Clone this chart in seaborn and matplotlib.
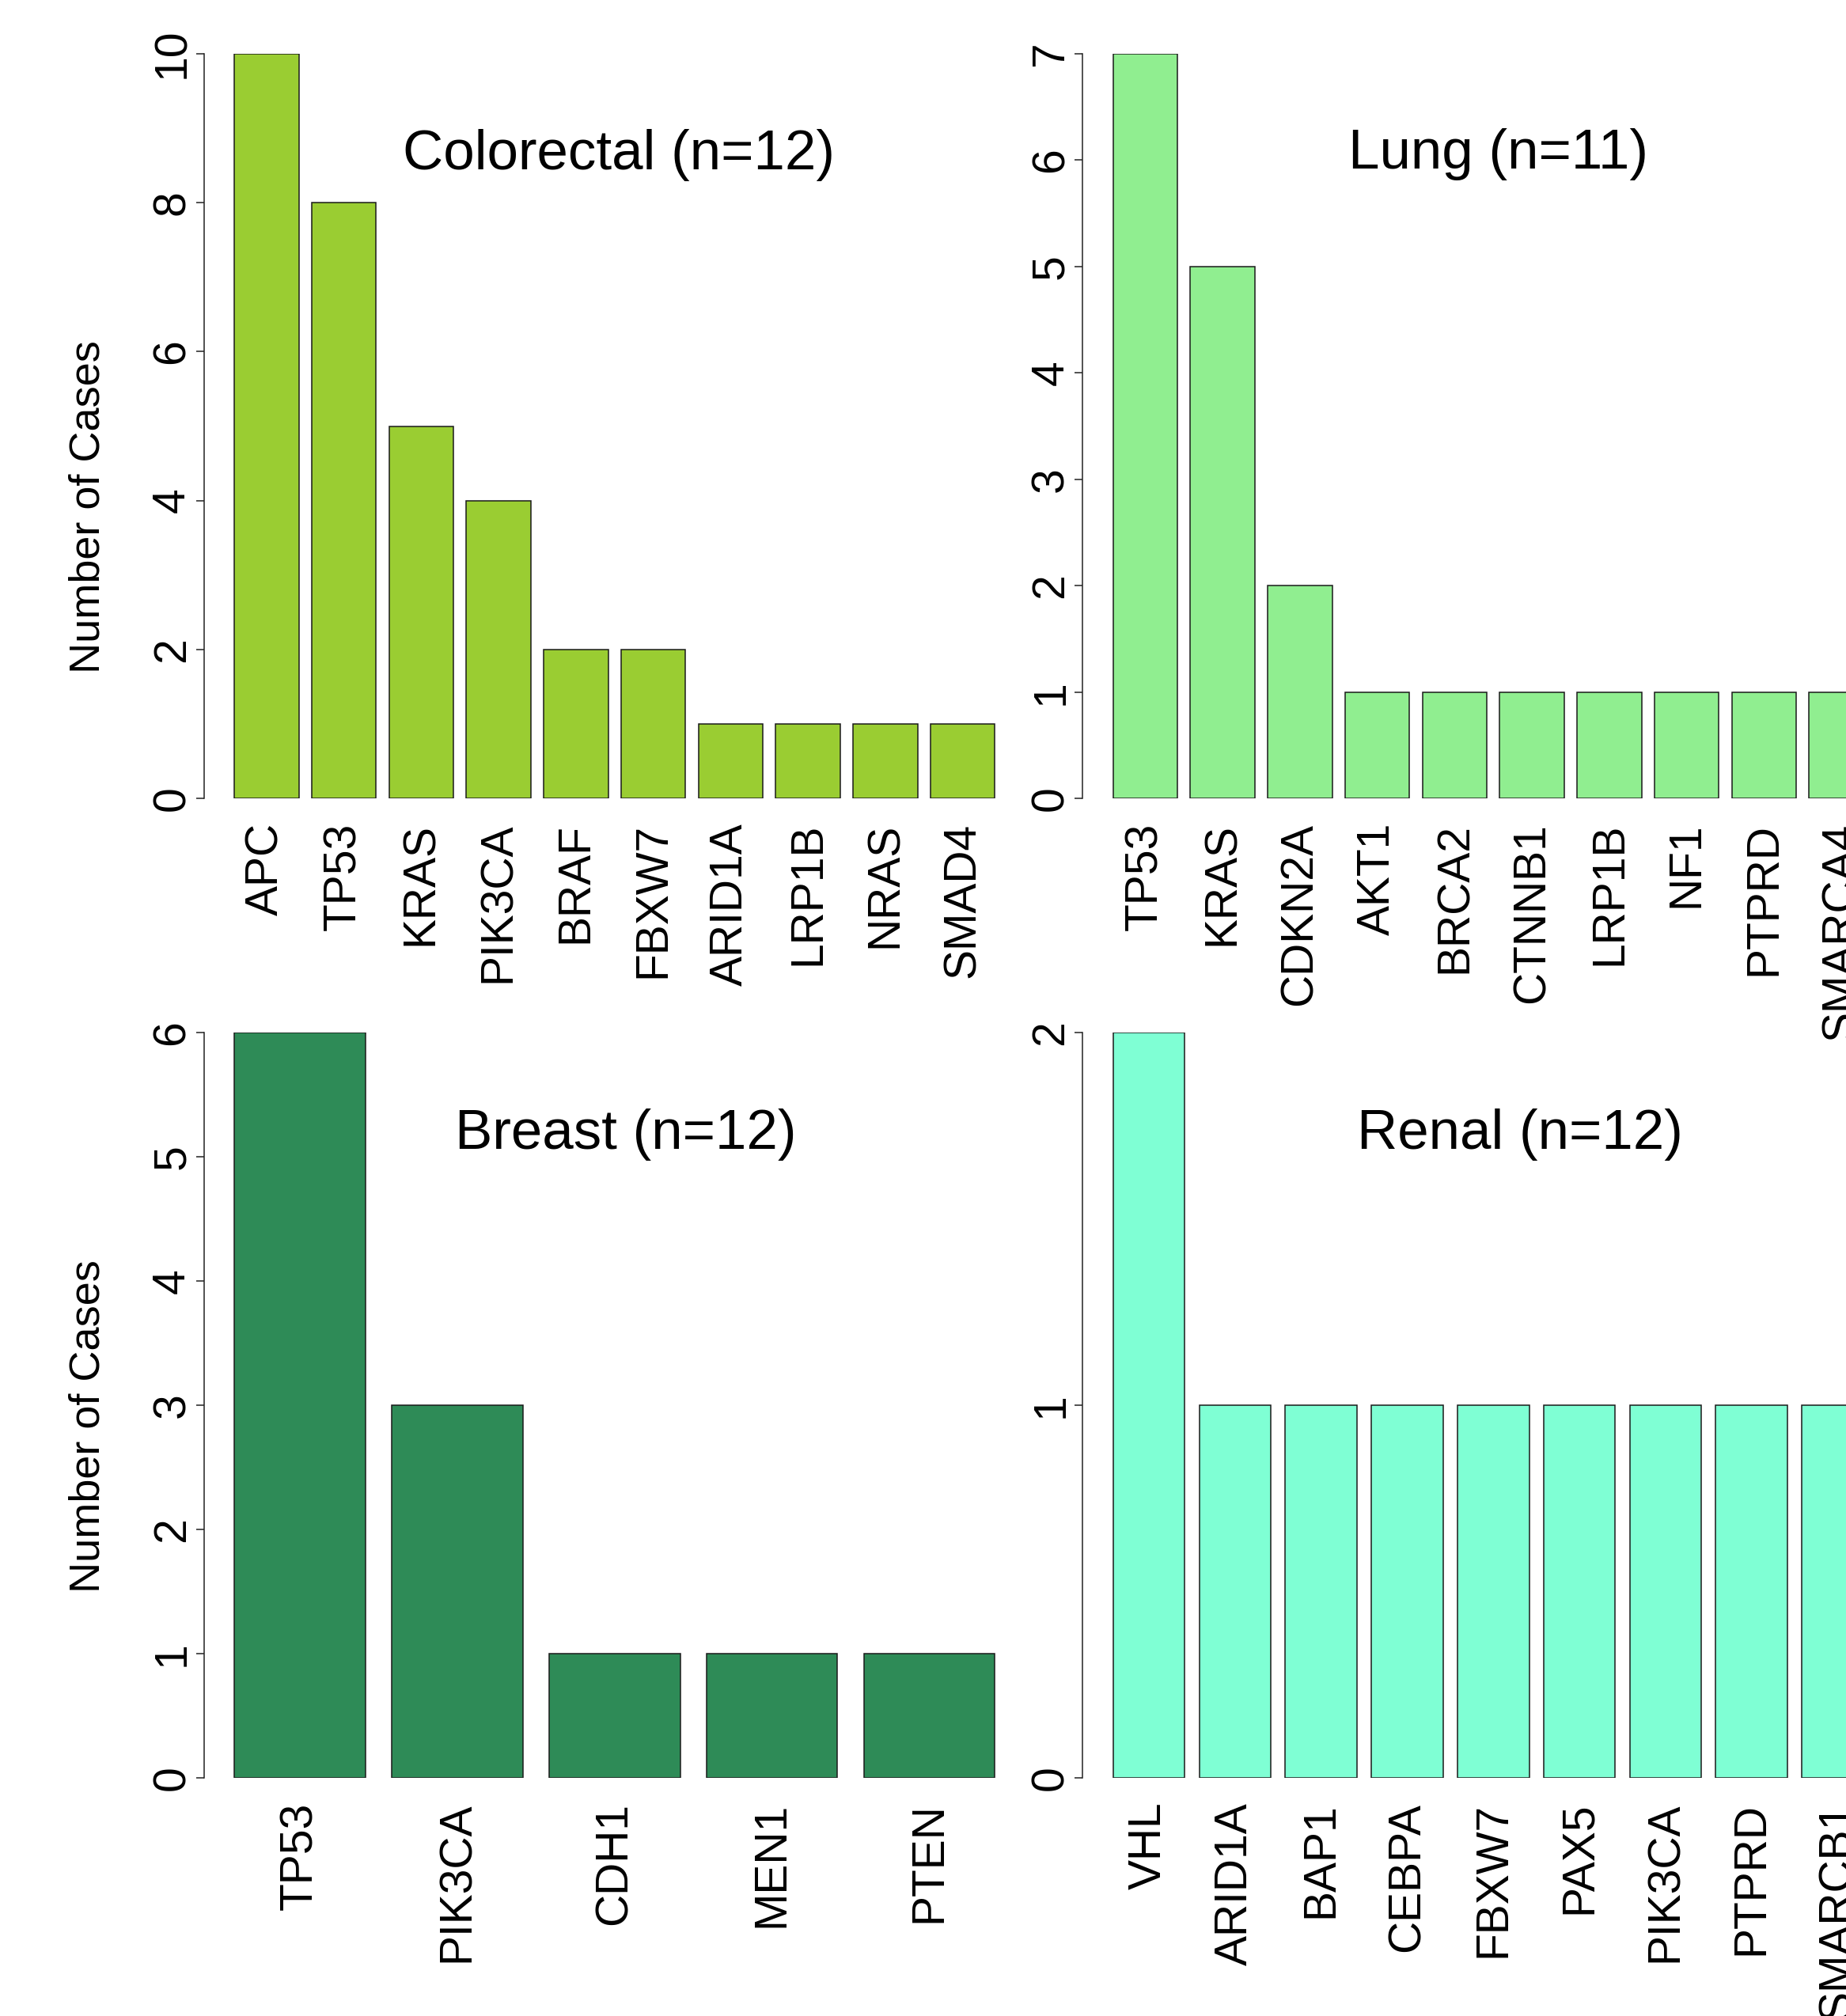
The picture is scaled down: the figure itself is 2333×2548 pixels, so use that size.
import matplotlib
matplotlib.use("Agg")
import matplotlib.pyplot as plt
import seaborn as sns
import pandas as pd

sns.set_style("white")
plt.rcParams['font.family'] = ['Liberation Sans', 'DejaVu Sans']
plt.rcParams['text.color'] = 'black'
plt.rcParams['xtick.color'] = 'black'
plt.rcParams['ytick.color'] = 'black'
plt.rcParams['axes.labelcolor'] = 'black'

# data
colorectal_genes = ['APC', 'TP53', 'KRAS', 'PIK3CA', 'BRAF', 'FBXW7',
                    'ARID1A', 'LRP1B', 'NRAS', 'SMAD4']
colorectal_counts = [10, 8, 5, 4, 2, 2, 1, 1, 1, 1]

lung_genes = ['TP53', 'KRAS', 'CDKN2A', 'AKT1', 'BRCA2', 'CTNNB1',
              'LRP1B', 'NF1', 'PTPRD', 'SMARCA4']
lung_counts = [7, 5, 2, 1, 1, 1, 1, 1, 1, 1]

breast_genes = ['TP53', 'PIK3CA', 'CDH1', 'MEN1', 'PTEN']
breast_counts = [6, 3, 1, 1, 1]

renal_genes = ['VHL', 'ARID1A', 'BAP1', 'CEBPA', 'FBXW7', 'PAX5',
               'PIK3CA', 'PTPRD', 'SMARCB1']
renal_counts = [2, 1, 1, 1, 1, 1, 1, 1, 1]

W, H = 2333, 2548
fig = plt.figure(figsize=(W / 100, H / 100), dpi=100)

bar_w = 1 / 1.2   # R barplot: width 1, space 0.2


def fx(px):
    return px / W


def fy(py):
    return 1 - py / H


def panel(left, top, bottom, genes, counts, color, ystep, title, title_xy):
    width = 1038
    ax = fig.add_axes([fx(left), fy(bottom), fx(width), (bottom - top) / H])
    df = pd.DataFrame({'gene': genes, 'n': counts})
    sns.barplot(data=df, x='gene', y='n', color=color, saturation=1,
                width=bar_w, edgecolor='#1a1a1a', linewidth=1.1, ax=ax)
    n = len(genes)
    lo, hi = -bar_w / 2, n - 1 + bar_w / 2
    ext = 0.04 * (hi - lo)
    ax.set_xlim(lo - ext, hi + ext)
    ymax = max(counts)
    ax.set_ylim(0, ymax)
    ax.set_yticks(range(0, ymax + 1, ystep))
    ax.set_xlabel('')
    ax.set_ylabel('')
    for s in ['top', 'right', 'bottom']:
        ax.spines[s].set_visible(False)
    ax.spines['left'].set_linewidth(1.1)
    ax.spines['left'].set_color('#222222')
    ax.tick_params(axis='y', left=True, length=7.2, width=1.1, color='#222222',
                   pad=2, labelsize=41, labelrotation=90, labelcolor='black')
    for lab in ax.get_yticklabels():
        lab.set_va('center')
    ax.tick_params(axis='x', bottom=False, length=0, pad=22, labelsize=41,
                   labelrotation=90, labelcolor='black')
    ax.set_facecolor('none')
    fig.text(fx(title_xy[0]), fy(title_xy[1]), title, fontsize=51,
             ha='center', va='baseline', color='black')
    return ax


panel(257.7, 67.7, 1009.3, colorectal_genes, colorectal_counts, '#9ACD32', 2,
      'Colorectal (n=12)', (782, 214))
panel(1368.3, 67.7, 1009.3, lung_genes, lung_counts, '#90EE90', 1,
      'Lung (n=11)', (1894, 213))
panel(257.7, 1305, 2247.3, breast_genes, breast_counts, '#2E8B57', 1,
      'Breast (n=12)', (791, 1452))
panel(1368.3, 1305, 2247.3, renal_genes, renal_counts, '#7FFFD4', 1,
      'Renal (n=12)', (1921, 1452))

for yc in [641, 1803]:
    fig.text(fx(126), fy(yc), 'Number of Cases', fontsize=39, rotation=90,
             rotation_mode='anchor', ha='center', va='baseline', color='black')

fig.savefig('out.png', dpi=100, facecolor='white')
